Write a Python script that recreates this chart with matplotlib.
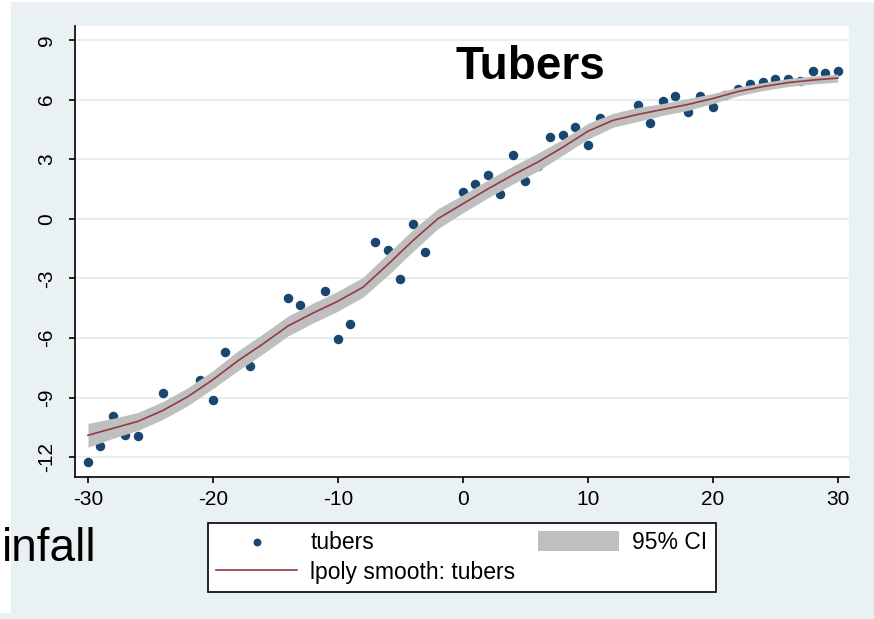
import numpy as np
import matplotlib
matplotlib.use('Agg')
import matplotlib.pyplot as plt
from matplotlib.patches import Rectangle

plt.rcParams['font.family'] = ['Liberation Sans', 'DejaVu Sans']
plt.rcParams['axes.unicode_minus'] = False

# observed points (one per degree of x)
x_obs = list(range(-30, 31))
tubers = [-12.27, -11.43, -9.93, -10.88, -10.96, -9.9, -8.76, -9.3, -8.9, -8.12,
          -9.11, -6.71, -7.2, -7.39, -6.3, -5.8, -3.99, -4.33, -4.7, -3.63,
          -6.04, -5.29, -3.4, -1.16, -1.56, -3.02, -0.27, -1.70, 0.0, 0.4,
          1.33, 1.75, 2.18, 1.26, 3.22, 1.91, 2.67, 4.10, 4.23, 4.62,
          3.73, 5.07, 4.95, 5.10, 5.74, 4.82, 5.90, 6.19, 5.35, 6.19,
          5.60, 6.25, 6.53, 6.76, 6.86, 7.03, 7.03, 6.95, 7.45, 7.33, 7.45]

# lpoly smooth and its 95% CI half width
x_fit = list(range(-30, 31, 2))
smooth = [-10.9, -10.55, -10.2, -9.65, -8.95, -8.1, -7.15, -6.3, -5.4, -4.75,
          -4.15, -3.45, -2.3, -1.1, 0.0, 0.75, 1.5, 2.2, 2.85, 3.6,
          4.4, 4.95, 5.25, 5.5, 5.75, 6.05, 6.4, 6.65, 6.85, 6.98, 7.08]
ci_half = [0.6, 0.5, 0.45, 0.45, 0.45, 0.45, 0.5, 0.5, 0.5, 0.5,
           0.5, 0.5, 0.55, 0.55, 0.5, 0.45, 0.45, 0.45, 0.45, 0.4,
           0.4, 0.35, 0.35, 0.3, 0.3, 0.25, 0.22, 0.2, 0.2, 0.2, 0.2]

y_ticks = [-12, -9, -6, -3, 0, 3, 6, 9]
x_ticks = [-30, -20, -10, 0, 10, 20, 30]

W, H = 874, 619
fig = plt.figure(figsize=(W / 100, H / 100), dpi=100, facecolor='#e9f1f3')
# white edges of the screenshot
fig.add_artist(Rectangle((0, 6 / H), 11 / W, 1, transform=fig.transFigure,
                         facecolor='white', edgecolor='none', zorder=0))
fig.add_artist(Rectangle((0, 1 - 2 / H), 1, 2 / H, transform=fig.transFigure,
                         facecolor='white', edgecolor='none', zorder=0))

ax = fig.add_axes([75 / W, 1 - 477 / H, 774 / W, 451 / H])
ax.set_facecolor('white')

lo = np.array(smooth) - np.array(ci_half)
hi = np.array(smooth) + np.array(ci_half)

pts = ax.scatter(x_obs, tubers, s=34, color='#1a476f', zorder=1, label='tubers')
band = ax.fill_between(x_fit, lo, hi, color='#bfbfbf', linewidth=0, zorder=2, label='95% CI')
line, = ax.plot(x_fit, smooth, color='#953a40', linewidth=1.2, zorder=3,
                label='lpoly smooth: tubers')

ax.set_xlim(-31.04, 30.9)
ax.set_ylim(-13.0, 9.7)
ax.set_xticks(x_ticks)
ax.set_yticks(y_ticks)
ax.yaxis.grid(True, color='#e6eef0', linewidth=1.5)
ax.set_axisbelow(True)

for s in ['top', 'right']:
    ax.spines[s].set_visible(False)
for s in ['left', 'bottom']:
    ax.spines[s].set_linewidth(1.2)
    ax.spines[s].set_color('black')

ax.tick_params(axis='both', direction='out', length=4.5, width=1.2, labelsize=15)
ax.tick_params(axis='x', pad=5)
ax.tick_params(axis='y', pad=9)
for lbl in ax.get_yticklabels():
    lbl.set_rotation(90)
    lbl.set_va('center')

fig.text(530 / W, 1 - 79 / H, 'Tubers', fontsize=33, fontweight='bold',
         ha='center', va='baseline')
fig.text(2 / W, 1 - 561 / H, 'infall', fontsize=33, ha='left', va='baseline')

leg = fig.legend([pts, line, band], ['tubers', 'lpoly smooth: tubers', '95% CI'],
                 ncol=2, loc='center', bbox_to_anchor=(462 / W, 1 - 557.5 / H),
                 fontsize=16.5, frameon=True, fancybox=False, framealpha=1,
                 edgecolor='black', handlelength=3.5, handleheight=0.95,
                 handletextpad=0.6, columnspacing=1.0, labelspacing=0.3,
                 borderpad=0.35, scatterpoints=1, markerscale=0.8)
leg.get_frame().set_linewidth(1.2)

fig.savefig('out.png', dpi=100, facecolor=fig.get_facecolor())
